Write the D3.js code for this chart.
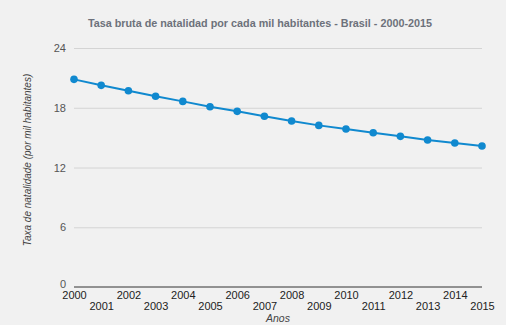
<!DOCTYPE html>
<html>
<head>
<meta charset="utf-8">
<script src="https://cdn.jsdelivr.net/npm/d3@7"></script>
<style>
  body { margin: 0; background: #f1f1f1; }
  svg { display: block; font-family: "Liberation Sans", Arial, sans-serif; }
</style>
</head>
<body>
<div id="chart"></div>
<script>
var width = 506,
  height = 325;

var years = [2000, 2001, 2002, 2003, 2004, 2005, 2006, 2007, 2008, 2009, 2010, 2011, 2012, 2013, 2014, 2015];
var natalidad = [20.85, 20.25, 19.71, 19.15, 18.64, 18.10, 17.64, 17.14, 16.67, 16.23, 15.86, 15.49, 15.13, 14.76, 14.46, 14.16];
var yTicks = [0, 6, 12, 18, 24];

var margin = { left: 74, right: 24, top: 48, bottom: 38 };

var x = d3.scaleLinear()
  .domain([2000, 2015])
  .range([margin.left, width - margin.right]);

var y = d3.scaleLinear()
  .domain([0, 24])
  .range([height - margin.bottom, margin.top]);

var svg = d3.select('#chart')
  .append('svg')
  .attr('width', width)
  .attr('height', height);

svg.append('rect')
  .attr('width', width)
  .attr('height', height)
  .attr('fill', '#f1f1f1');

// title
svg.append('text')
  .attr('x', 260)
  .attr('y', 27)
  .attr('text-anchor', 'middle')
  .attr('font-size', '10.8px')
  .attr('font-weight', 'bold')
  .attr('fill', '#6d717b')
  .text('Tasa bruta de natalidad por cada mil habitantes - Brasil - 2000-2015');

// y axis with grid
var yAxis = svg.append('g')
  .attr('transform', 'translate(' + margin.left + ',0)')
  .call(d3.axisLeft(y).tickValues(yTicks).tickSize(-(width - margin.left - margin.right)).tickPadding(8));
yAxis.select('.domain').remove();
yAxis.selectAll('.tick line')
  .attr('stroke', function (d) { return d === 0 ? 'none' : '#d4d4d4'; });
yAxis.selectAll('.tick text')
  .attr('font-size', '11px')
  .attr('fill', '#555')
  .attr('font-family', '"Liberation Sans", Arial, sans-serif')
  .attr('dy', function (d) { return d === 0 ? '0.05em' : '0.32em'; });

// baseline
svg.append('line')
  .attr('x1', x(2000))
  .attr('x2', x(2015))
  .attr('y1', y(0))
  .attr('y2', y(0))
  .attr('stroke', '#333')
  .attr('stroke-width', 1);

// x axis labels, alternating rows
var xAxis = svg.append('g')
  .attr('transform', 'translate(0,' + y(0) + ')')
  .call(d3.axisBottom(x).tickValues(years).tickFormat(d3.format('d')).tickSize(0));
xAxis.select('.domain').remove();
xAxis.selectAll('.tick text')
  .attr('font-size', '11px')
  .attr('fill', '#222')
  .attr('font-family', '"Liberation Sans", Arial, sans-serif')
  .attr('dy', null)
  .attr('y', function (d, i) { return i % 2 === 0 ? 12 : 23; });

// axis titles
svg.append('text')
  .attr('x', 278)
  .attr('y', 322)
  .attr('text-anchor', 'middle')
  .attr('font-size', '10.5px')
  .attr('font-style', 'italic')
  .attr('fill', '#444')
  .text('Anos');

svg.append('text')
  .attr('transform', 'translate(31,160) rotate(-90)')
  .attr('text-anchor', 'middle')
  .attr('font-size', '10px')
  .attr('font-style', 'italic')
  .attr('fill', '#444')
  .text('Taxa de natalidade (por mil habitantes)');

// line and points
var line = d3.line()
  .x(function (d, i) { return x(years[i]); })
  .y(function (d) { return y(d); });

svg.append('path')
  .datum(natalidad)
  .attr('d', line)
  .attr('fill', 'none')
  .attr('stroke', '#1089cf')
  .attr('stroke-width', 2);

svg.selectAll('.pt')
  .data(natalidad)
  .enter()
  .append('circle')
  .attr('class', 'pt')
  .attr('cx', function (d, i) { return x(years[i]); })
  .attr('cy', function (d) { return y(d); })
  .attr('r', 3.8)
  .attr('fill', '#1089cf');
</script>
</body>
</html>
